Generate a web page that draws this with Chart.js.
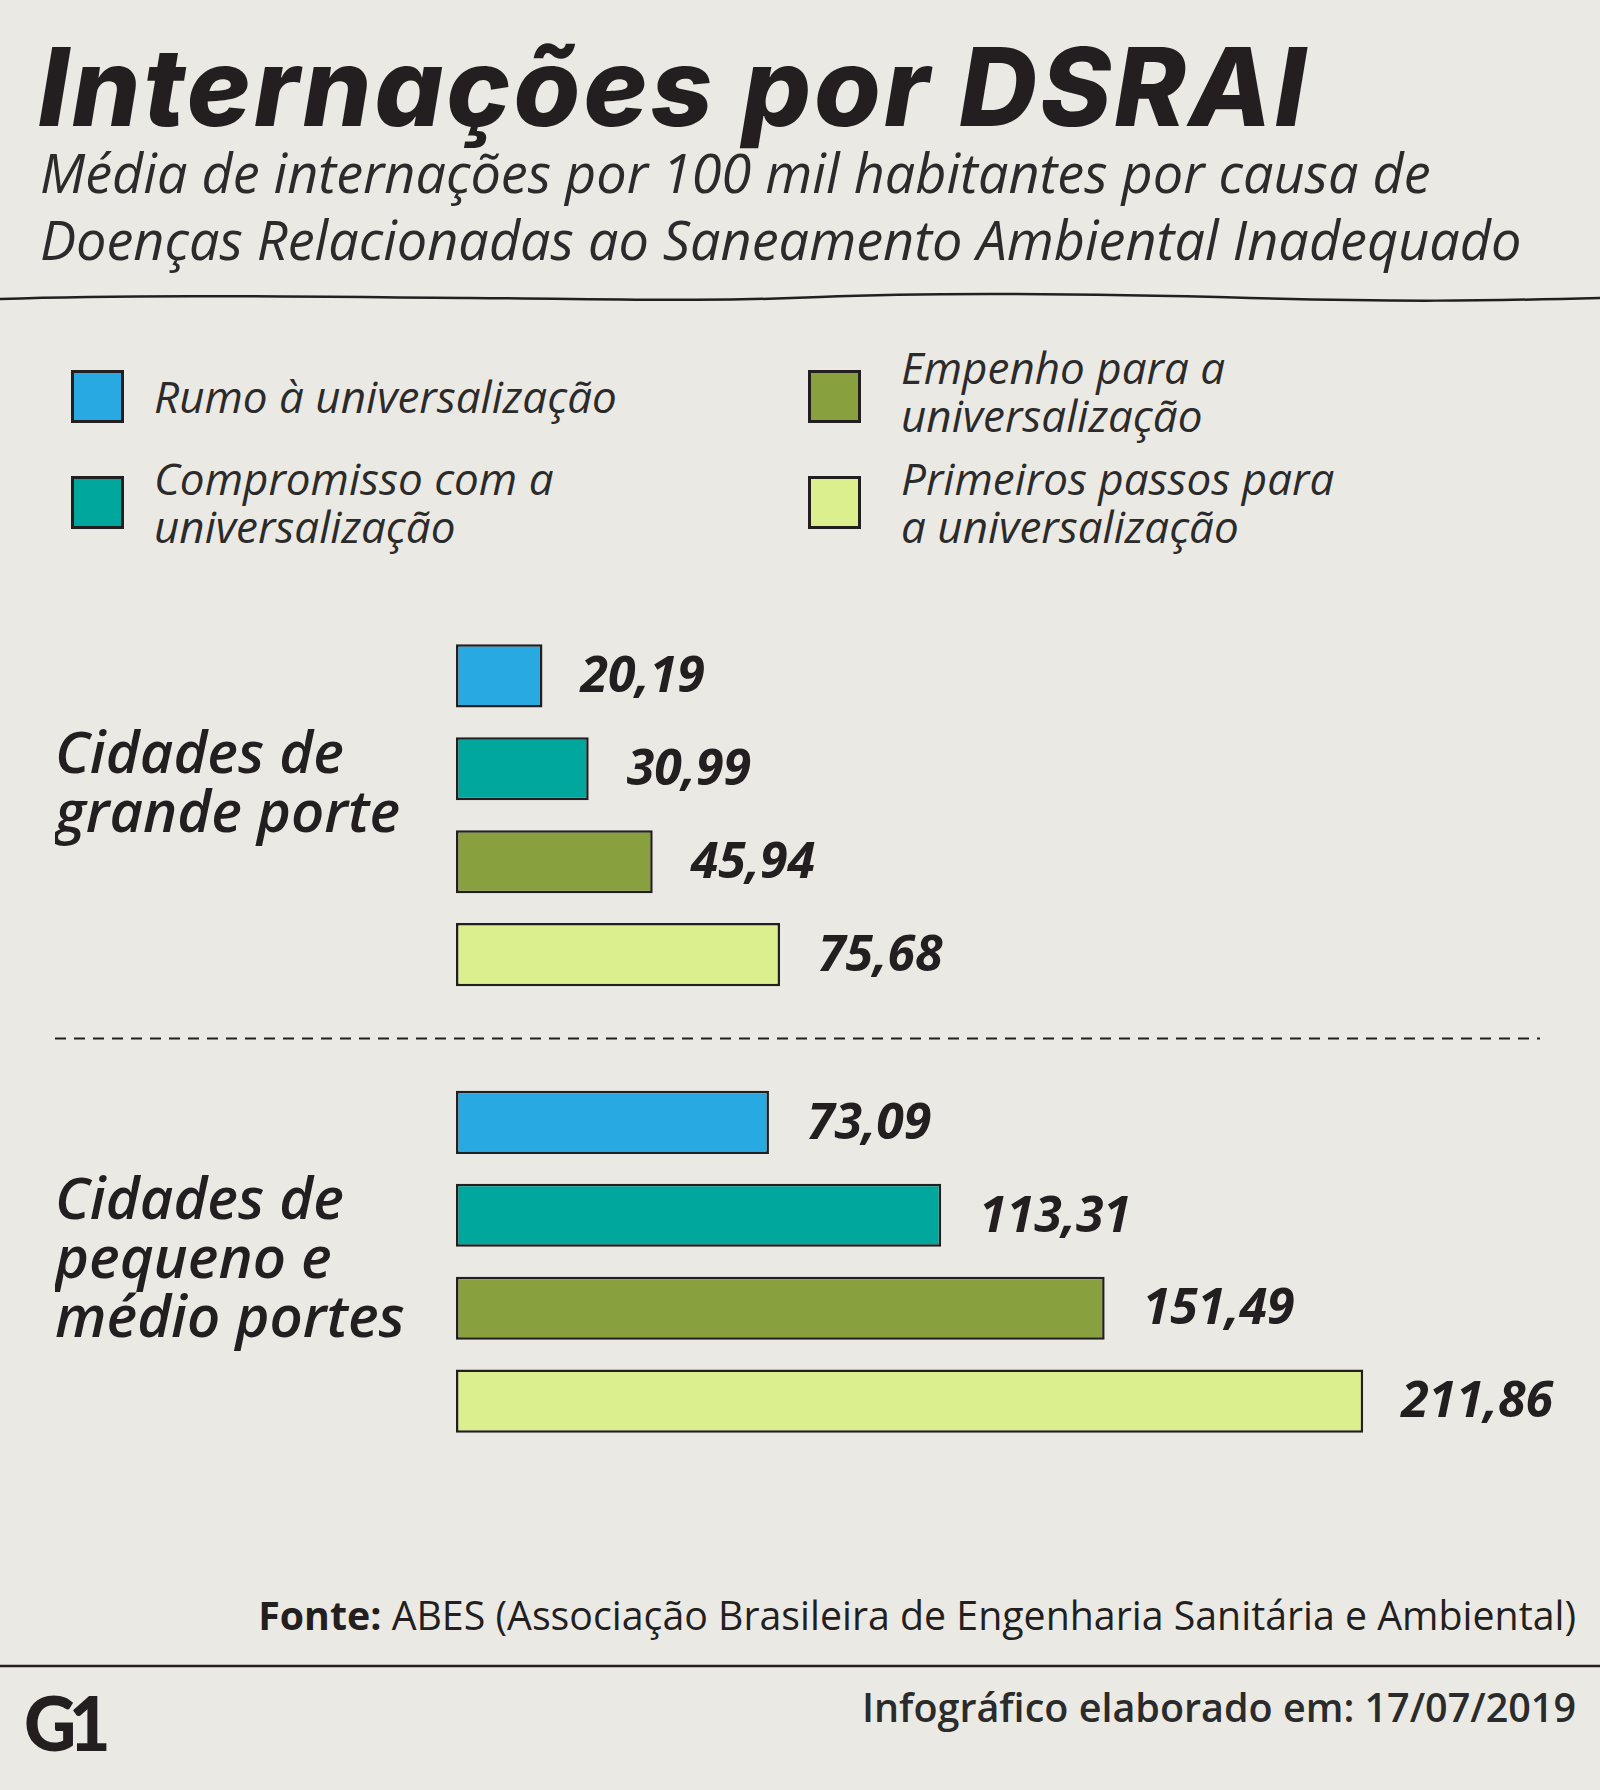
<!DOCTYPE html>
<html lang="pt-BR">
<head>
<meta charset="utf-8">
<title>Internações por DSRAI</title>
<script src="https://cdn.jsdelivr.net/npm/chart.js@4.4.1/dist/chart.umd.min.js"></script>
<style>
  html, body { margin: 0; padding: 0; }
  body {
    width: 1600px; height: 1790px; position: relative; overflow: hidden;
    background: #ebe9e4; color: #231f20; font-family: "Open Sans", sans-serif;
  }
  .abs { position: absolute; }
  #title {
    left: 38px; top: 22px; margin: 0;
    font-family: Inter, "Open Sans", sans-serif; font-weight: 800; font-style: italic;
    font-size: 108px; line-height: 130px; letter-spacing: 3px; white-space: nowrap;
  }
  #subtitle {
    left: 40px; top: 139px; margin: 0; white-space: nowrap;
    font-style: italic; font-size: 54px; line-height: 67px; color: #2b2b2b;
  }
  .leg { display: flex; align-items: center; }
  .leg .sw { width: 47px; height: 47px; border: 3px solid #231f20; box-sizing: content-box; flex: none; }
  .leg .tx { font-style: italic; font-size: 44px; line-height: 48px; color: #2b2b2b; white-space: nowrap; }
  #chartbox { left: 0; top: 560px; width: 1600px; height: 960px; }
  #fonte { right: 24px; top: 1589px; font-size: 39.3px; line-height: 52px; white-space: nowrap; }
  #data { right: 24px; top: 1681px; font-size: 39.5px; line-height: 52px; font-weight: 600; color: #2b2b2b; white-space: nowrap; }
  #g1 {
    left: 24px; top: 1682px; font-family: Lato, sans-serif; font-weight: 900;
    font-size: 76px; line-height: 80px; letter-spacing: -8px; color: #231f20;
    transform: scaleX(0.95); transform-origin: left;
  }
</style>
</head>
<body>
<h1 id="title" class="abs">Internações por DSRAI</h1>
<p id="subtitle" class="abs">Média de internações por 100 mil habitantes por causa de<br>Doenças Relacionadas ao Saneamento Ambiental Inadequado</p>

<svg class="abs" style="left:0;top:280px" width="1600" height="40">
  <path d="M0 19 C 150 14, 320 17, 470 18 S 700 22, 820 17 S 1100 14, 1250 18 S 1480 21, 1600 18"
        fill="none" stroke="#231f20" stroke-width="2.5"/>
</svg>

<div id="legend"></div>

<div id="chartbox" class="abs"><canvas id="chart"></canvas></div>

<div id="fonte" class="abs"><b>Fonte:</b> ABES (Associação Brasileira de Engenharia Sanitária e Ambiental)</div>
<svg class="abs" style="left:0;top:1660px" width="1600" height="12">
  <line x1="0" y1="6" x2="1600" y2="6" stroke="#231f20" stroke-width="2.5"/>
</svg>
<div id="g1" class="abs">G1</div>
<div id="data" class="abs">Infográfico elaborado em: 17/07/2019</div>

<script>
// categorias (grupos de cidades) e séries
const groups = [
  ['Cidades de', 'grande porte', ''],
  ['Cidades de', 'pequeno e', 'médio portes']
];
const seriesNames = [
  'Rumo à universalização',
  'Compromisso com a universalização',
  'Empenho para a universalização',
  'Primeiros passos para a universalização'
];
const rumo = [20.19, 73.09];
const compromisso = [30.99, 113.31];
const empenho = [45.94, 151.49];
const primeiros = [75.68, 211.86];
const colors = ['#29a9e1', '#00a79d', '#89a03f', '#dbef8f'];

// legenda em html (duas colunas)
const legendLines = [
  ['Rumo à universalização'],
  ['Compromisso com a', 'universalização'],
  ['Empenho para a', 'universalização'],
  ['Primeiros passos para', 'a universalização']
];
const legendPos = [[71, 346], [71, 452], [808, 346], [808, 452]];
const legendGap = [30, 30, 40, 40];
const legendEl = document.getElementById('legend');
seriesNames.forEach((name, i) => {
  const item = document.createElement('div');
  item.className = 'leg abs';
  item.style.left = legendPos[i][0] + 'px';
  item.style.top = legendPos[i][1] + 'px';
  item.style.height = '100px';
  item.innerHTML = `<div class="sw" style="background:${colors[i]}"></div>
    <div class="tx" style="margin-left:${legendGap[i]}px;${i === 2 ? 'margin-top:-10px' : ''}">${legendLines[i].join('<br>')}</div>`;
  legendEl.appendChild(item);
});

const fmt = v => v.toFixed(2).replace('.', ',');

// rótulos de valor e linha tracejada entre os grupos
const extras = {
  id: 'extras',
  afterDatasetsDraw(chart) {
    const ctx = chart.ctx;
    ctx.save();
    ctx.font = 'italic 700 50px "Open Sans"';
    ctx.fillStyle = '#231f20';
    ctx.textBaseline = 'middle';
    ctx.textAlign = 'left';
    chart.data.datasets.forEach((ds, di) => {
      chart.getDatasetMeta(di).data.forEach((bar, i) => {
        ctx.fillText(fmt(ds.data[i]), bar.x + 38, bar.y + 2);
      });
    });
    const y = chart.scales.y;
    const mid = (y.getPixelForValue(0) + y.getPixelForValue(1)) / 2;
    ctx.strokeStyle = '#231f20';
    ctx.lineWidth = 2;
    ctx.setLineDash([11, 8]);
    ctx.beginPath();
    ctx.moveTo(55, mid);
    ctx.lineTo(1540, mid);
    ctx.stroke();
    ctx.restore();
  }
};

const series = [rumo, compromisso, empenho, primeiros];
new Chart(document.getElementById('chart'), {
  type: 'bar',
  data: {
    labels: groups,
    datasets: series.map((d, i) => ({
      label: seriesNames[i],
      data: d,
      backgroundColor: colors[i],
      borderColor: '#231f20',
      borderWidth: 2.5,
      borderSkipped: false,
      categoryPercentage: 0.833,
      barPercentage: 0.68
    }))
  },
  options: {
    indexAxis: 'y',
    responsive: true,
    maintainAspectRatio: false,
    animation: false,
    layout: { padding: { left: 55, right: 35, top: 32, bottom: 35 } },
    plugins: { legend: { display: false }, tooltip: { enabled: false } },
    scales: {
      x: { display: false, min: 0, max: 259 },
      y: {
        grid: { display: false },
        border: { display: false },
        afterFit(scale) {
          scale.width = 401;
          scale.paddingTop = 0;
          scale.paddingBottom = 0;
        },
        ticks: {
          crossAlign: 'far',
          padding: 0,
          color: '#231f20',
          font: { family: '"Open Sans"', size: 58, style: 'italic', weight: '600', lineHeight: 1.02 }
        }
      }
    }
  },
  plugins: [extras]
});
</script>
</body>
</html>
